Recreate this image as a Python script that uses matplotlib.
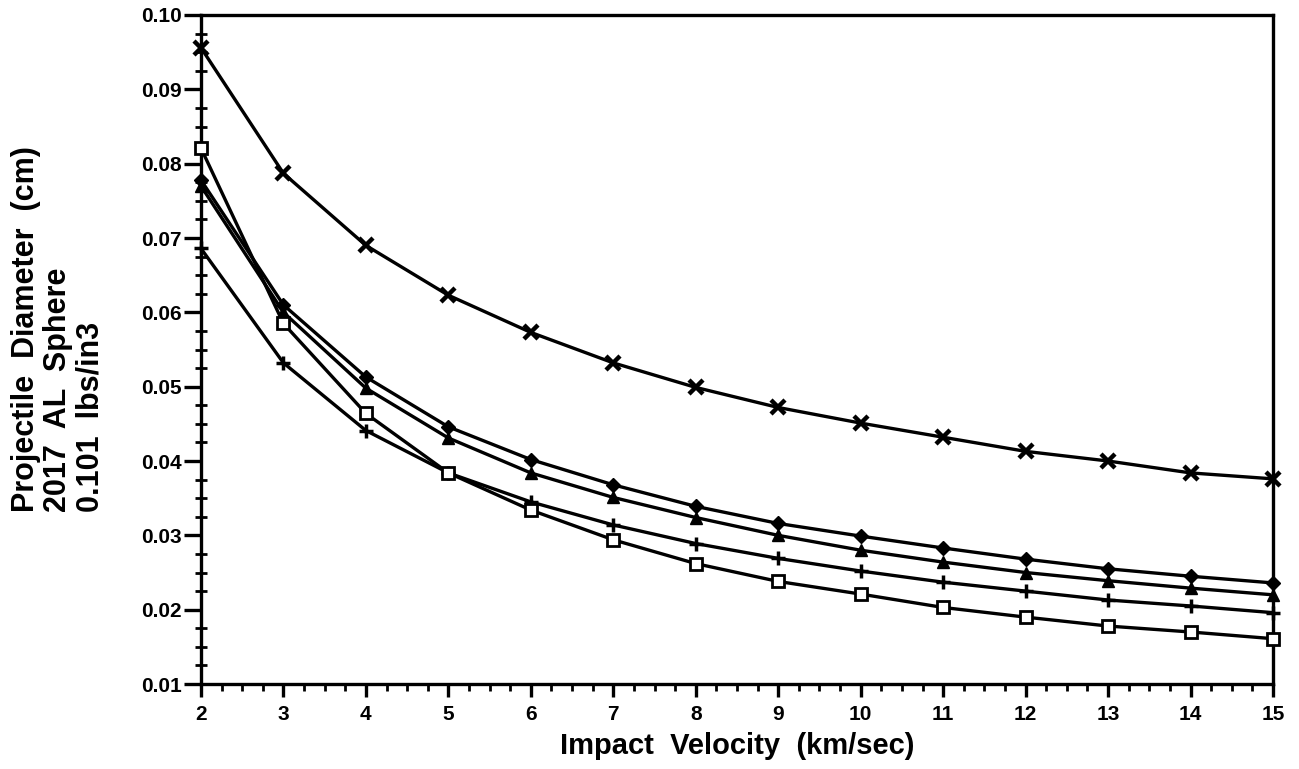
import matplotlib
matplotlib.use("Agg")
import matplotlib.pyplot as plt
from matplotlib.ticker import MultipleLocator, FixedLocator

plt.rcParams['font.family'] = ['Liberation Sans', 'DejaVu Sans']

velocity = [2, 3, 4, 5, 6, 7, 8, 9, 10, 11, 12, 13, 14, 15]
series_x = [0.0956, 0.0787, 0.0690, 0.0623, 0.0573, 0.0532, 0.0499, 0.0472, 0.0451, 0.0432, 0.0413, 0.0400, 0.0384, 0.0376]
series_diamond = [0.0778, 0.0610, 0.0513, 0.0446, 0.0402, 0.0368, 0.0339, 0.0316, 0.0299, 0.0283, 0.0268, 0.0255, 0.0245, 0.0236]
series_triangle = [0.0770, 0.0600, 0.0498, 0.0431, 0.0384, 0.0351, 0.0324, 0.0300, 0.0280, 0.0264, 0.0250, 0.0239, 0.0229, 0.0220]
series_plus = [0.0686, 0.0532, 0.0441, 0.0384, 0.0345, 0.0314, 0.0289, 0.0269, 0.0252, 0.0237, 0.0225, 0.0213, 0.0205, 0.0196]
series_square = [0.0821, 0.0585, 0.0464, 0.0384, 0.0334, 0.0294, 0.0262, 0.0238, 0.0221, 0.0203, 0.0190, 0.0178, 0.0170, 0.0161]

x_ticks = list(range(2, 16))
y_ticks = [0.01, 0.02, 0.03, 0.04, 0.05, 0.06, 0.07, 0.08, 0.09, 0.10]
y_tick_labels = ['0.01', '0.02', '0.03', '0.04', '0.05', '0.06', '0.07', '0.08', '0.09', '0.10']

fig = plt.figure(figsize=(12.99, 7.69), dpi=100)
ax = fig.add_axes([0.1547, 0.1105, 0.8253, 0.870])

lw = 2.4
ax.plot(velocity, series_x, color='black', lw=lw, marker='x', ms=10, mew=3.2, clip_on=False, zorder=3)
ax.plot(velocity, series_diamond, color='black', lw=lw, marker='D', ms=7, mfc='black', clip_on=False, zorder=3)
ax.plot(velocity, series_triangle, color='black', lw=lw, marker='^', ms=8.5, mfc='black', clip_on=False, zorder=3)
ax.plot(velocity, series_plus, color='black', lw=lw, marker='+', ms=10, mew=2.5, clip_on=False, zorder=3)
ax.plot(velocity, series_square, color='black', lw=lw, marker='s', ms=8, mfc='white', mec='black', mew=2, clip_on=False, zorder=4)

ax.set_xlim(2, 15)
ax.set_ylim(0.01, 0.10)
ax.xaxis.set_major_locator(FixedLocator(x_ticks))
ax.xaxis.set_minor_locator(MultipleLocator(0.25))
ax.yaxis.set_major_locator(FixedLocator(y_ticks))
ax.yaxis.set_minor_locator(MultipleLocator(0.0025))
ax.set_yticklabels(y_tick_labels)
ax.set_xticklabels([str(v) for v in x_ticks])

for s in ax.spines.values():
    s.set_linewidth(2.4)

ax.tick_params(axis='x', which='major', direction='out', length=9, width=2.4, labelsize=15, pad=6)
ax.tick_params(axis='x', which='minor', direction='out', length=5, width=2)
ax.tick_params(axis='y', which='major', direction='out', length=12, width=2.4, labelsize=15, pad=2)
ax.tick_params(axis='y', which='minor', direction='inout', length=9, width=2)
for lab in ax.get_xticklabels() + ax.get_yticklabels():
    lab.set_fontweight('bold')

ax.set_xlabel('Impact  Velocity  (km/sec)', fontsize=21, fontweight='bold', labelpad=6)
fig.text(0.045, 0.572, 'Projectile  Diameter  (cm)\n2017  AL  Sphere\n0.101  lbs/in3',
         rotation=90, fontsize=22, fontweight='bold', ha='center', va='center',
         multialignment='left', linespacing=1.1)

fig.savefig('out.png', dpi=100)
